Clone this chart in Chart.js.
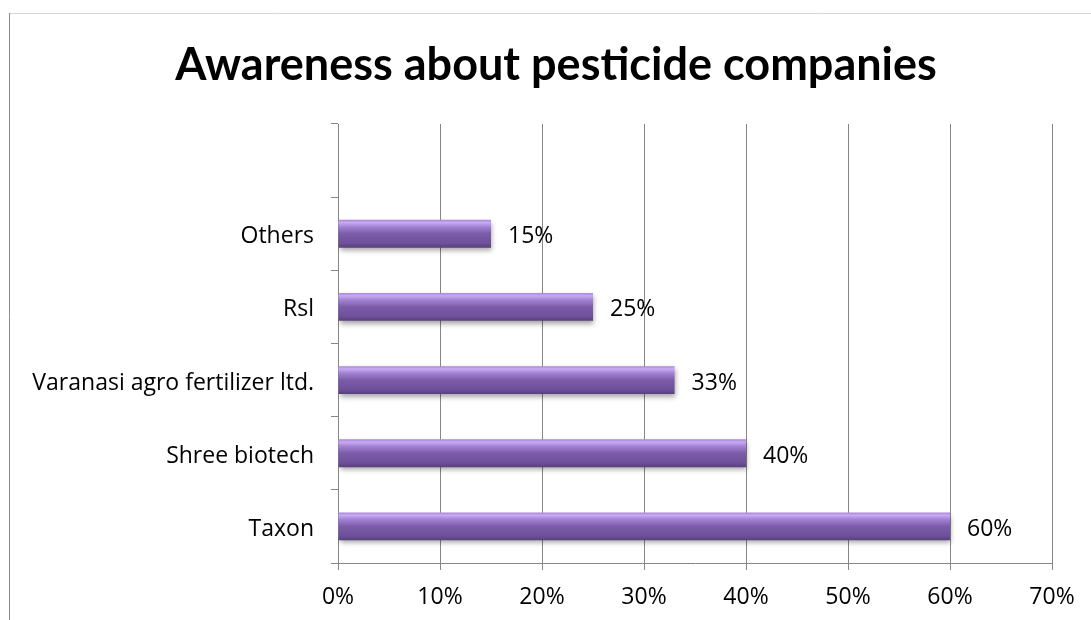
<!DOCTYPE html>
<html><head><meta charset="utf-8">
<script src="https://cdn.jsdelivr.net/npm/chart.js@4.4.1/dist/chart.umd.min.js"></script>
<style>html,body{margin:0;padding:0;background:#fff;}#wrap{width:1091px;height:620px;position:relative;}</style>
</head><body><div id="wrap"><canvas id="c" width="1091" height="620"></canvas></div>
<script>
const titleText = "Awareness about pesticide companies";
const categories = ["", "Others", "Rsl", "Varanasi agro fertilizer ltd.", "Shree biotech", "Taxon"];
const values = [null, 15, 25, 33, 40, 60];
const tickLabels = ["0%","10%","20%","30%","40%","50%","60%","70%"];

const FONT = "'Open Sans', Lato, sans-serif";
const TFONT = "Lato, 'Open Sans', sans-serif";
const FS = 23;
const BAR_PCT = 0.38;

function barFill(ctx) {
  const chart = ctx.chart;
  const ys = chart.scales.y;
  if (!ys || ctx.dataIndex === undefined) return '#7b5ea7';
  const c = ys.getPixelForValue(ctx.dataIndex);
  const h = (ys.height / categories.length) * BAR_PCT;
  if (!isFinite(c) || !isFinite(h) || h <= 0) return '#7b5ea7';
  const g = chart.ctx.createLinearGradient(0, c - h/2, 0, c + h/2);
  g.addColorStop(0, '#a888d6');
  g.addColorStop(0.1, '#c9aaf4');
  g.addColorStop(0.25, '#a282d4');
  g.addColorStop(0.5, '#7c5ca9');
  g.addColorStop(0.85, '#6d4f9a');
  g.addColorStop(1, '#56407a');
  return g;
}

const framePlugin = {
  id: 'frame',
  beforeDraw(chart) {
    const c = chart.ctx;
    c.save();
    c.strokeStyle = '#d4d4d4'; c.lineWidth = 1;
    c.beginPath(); c.moveTo(9, 13.5); c.lineTo(1091, 13.5); c.stroke();
    c.strokeStyle = '#8a8a8a';
    c.beginPath(); c.moveTo(9.5, 13); c.lineTo(9.5, 620); c.stroke();
    c.font = "bold 45px " + TFONT; c.fillStyle = '#000';
    c.textAlign = 'center'; c.textBaseline = 'alphabetic';
    c.fillText(titleText, 556, 80);
    c.restore();
  }
};

const shadowPlugin = {
  id: 'shadow',
  beforeDatasetDraw(chart) {
    const c = chart.ctx; c.save();
    c.shadowColor = 'rgba(0,0,0,0.35)'; c.shadowBlur = 5; c.shadowOffsetX = 1; c.shadowOffsetY = 3;
  },
  afterDatasetDraw(chart) { chart.ctx.restore(); }
};

const labelPlugin = {
  id: 'vlabels',
  afterDatasetsDraw(chart) {
    const c = chart.ctx;
    const meta = chart.getDatasetMeta(0);
    c.save();
    c.font = FS + "px " + FONT; c.fillStyle = '#000'; c.textBaseline = 'middle'; c.textAlign = 'left';
    meta.data.forEach((bar, i) => {
      if (values[i] == null) return;
      c.fillText(values[i] + '%', bar.x + 17, bar.y + 3);
    });
    c.restore();
  }
};

new Chart(document.getElementById('c'), {
  type: 'bar',
  data: { labels: categories, datasets: [{ data: values, backgroundColor: barFill, borderWidth: 0, barPercentage: BAR_PCT, categoryPercentage: 1 }] },
  options: {
    indexAxis: 'y', responsive: false, animation: false,
    layout: { padding: { left: 0, right: 39, top: 124, bottom: 0 } },
    plugins: {
      legend: { display: false }, tooltip: { enabled: false }, title: { display: false }
    },
    scales: {
      x: {
        min: 0, max: 70,
        ticks: { stepSize: 10, color: '#000', font: { family: FONT, size: FS }, padding: 14, callback: (v, i) => tickLabels[i] },
        grid: { color: '#868686', lineWidth: 1, tickLength: 7, drawTicks: true },
        border: { color: '#868686', width: 1 },
        afterFit(s) { s.height = 57; }
      },
      y: {
        ticks: { color: '#000', font: { family: FONT, size: FS }, padding: 17, labelOffset: 3 },
        grid: { offset: true, drawOnChartArea: false, tickLength: 7, color: '#868686' },
        border: { color: '#868686', width: 1 },
        afterFit(s) { s.width = 338; }
      }
    }
  },
  plugins: [framePlugin, shadowPlugin, labelPlugin]
});
</script></body></html>
